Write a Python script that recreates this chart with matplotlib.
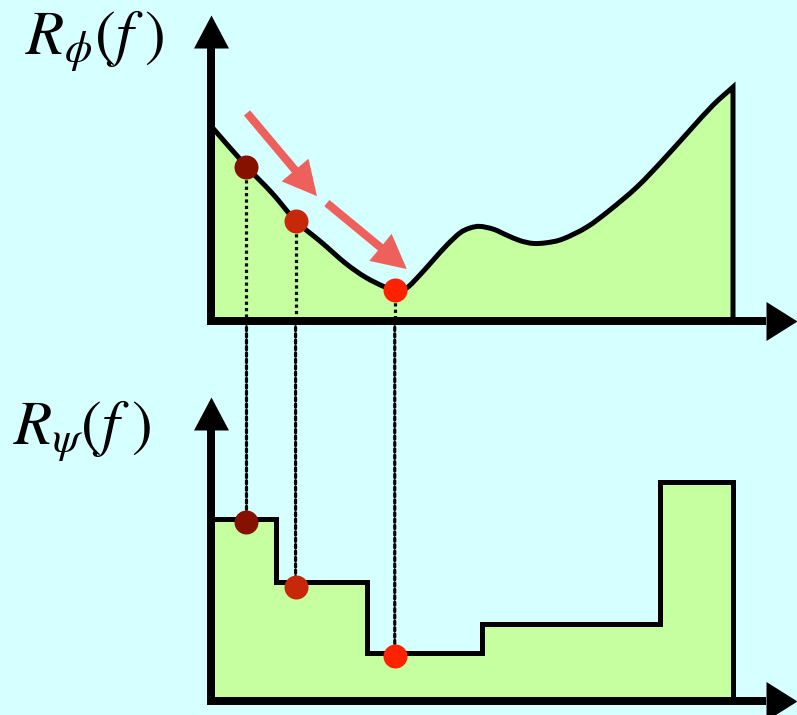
import numpy as np
import matplotlib.pyplot as plt
from matplotlib.path import Path
from matplotlib.patches import ConnectionPatch, FancyArrowPatch, PathPatch

plt.rcParams['mathtext.fontset'] = 'stix'

BG = '#D6FFFF'
FILL = '#C6FFA0'
ARROW_RED = '#ED605B'

# smooth response R_phi(f), sampled along the curve
phi_f = [0.00, 0.69, 1.17, 1.63, 2.13, 2.57, 2.95, 3.33, 3.55, 3.75, 4.00,
         4.26, 4.52, 4.77, 4.96, 5.15, 5.41, 5.66, 5.92, 6.17, 6.43, 6.74,
         7.20, 7.64, 8.16, 8.66, 9.18, 9.62, 10.00]
phi_R = [8.37, 6.61, 5.49, 4.29, 3.35, 2.49, 1.89, 1.46, 1.31, 1.42, 1.97,
         2.62, 3.26, 3.78, 3.99, 4.06, 3.94, 3.69, 3.45, 3.33, 3.36, 3.52,
         4.03, 4.76, 5.75, 6.91, 8.20, 9.27, 10.04]

# piecewise-constant response R_psi(f)
psi_edges = [0.0, 1.25, 2.98, 5.19, 8.60, 10.0]
psi_levels = [7.81, 5.11, 2.06, 3.30, 9.40]

# three probe frequencies and their values on both curves
probe_f = [0.68, 1.62, 3.52]
probe_phi = [6.62, 4.31, 1.33]
probe_psi = [7.68, 4.89, 1.93]
probe_colors = ['#861100', '#C8280A', '#FF2200']

W, H = 797, 715
PX = 0.72  # points per pixel at dpi 100

fig = plt.figure(figsize=(W / 100, H / 100), dpi=100, facecolor=BG)


def panel(x0, y_axis, top):
    ax = fig.add_axes([x0 / W, 1 - y_axis / H, 522 / W, (y_axis - top) / H])
    ax.set_xlim(0, 10)
    ax.set_ylim(0, 10)
    ax.set_axis_off()
    return ax


def smooth_path(x, y):
    # cubic Bezier segments through the samples (Catmull-Rom tangents)
    p = np.column_stack([x, y])
    ext = np.vstack([p[0], p, p[-1]])
    verts = [p[0]]
    codes = [Path.MOVETO]
    for i in range(len(p) - 1):
        a, b, c, d = ext[i], ext[i + 1], ext[i + 2], ext[i + 3]
        verts += [b + (c - a) / 6, c - (d - b) / 6, c]
        codes += [Path.CURVE4] * 3
    return np.array(verts), codes


ax_bot = panel(211, 701, 468)
ax_top = panel(211, 321, 88)
ax_top.set_zorder(2)
ax_bot.set_zorder(1)


def draw_axes(ax, ytip, ybase):
    xbase, xtip = 10.63, 11.23
    ax.plot([0, 0, xbase], [ybase, 0, 0], color='k', lw=8 * PX,
            solid_joinstyle='miter', solid_capstyle='butt', clip_on=False, zorder=6)
    up = [(0, 0), (-17.5, -33), (17.5, -33)]
    right = [(0, 0), (-31, 19.5), (-31, -19.5)]
    ax.plot([0], [ytip], marker=up, ms=66 * PX, mew=0, color='k',
            clip_on=False, zorder=6)
    ax.plot([xtip], [0], marker=right, ms=62 * PX, mew=0, color='k',
            clip_on=False, zorder=6)


# top panel: smooth curve
verts, codes = smooth_path(phi_f, phi_R)
area = Path(np.vstack([verts, [[phi_f[-1], 0], [phi_f[0], 0], verts[0]]]),
            codes + [Path.LINETO, Path.LINETO, Path.CLOSEPOLY])
ax_top.add_patch(PathPatch(area, facecolor=FILL, lw=0, zorder=1))
outline = Path(np.vstack([verts, [[phi_f[-1], 0]]]), codes + [Path.LINETO])
ax_top.add_patch(PathPatch(outline, fill=False, edgecolor='k', lw=5 * PX,
                           joinstyle='miter', capstyle='butt',
                           clip_on=False, zorder=4))
draw_axes(ax_top, 13.13, 11.72)

# bottom panel: steps
ax_bot.stairs(psi_levels, psi_edges, baseline=0, fill=True, color=FILL,
              lw=0, zorder=1)
ax_bot.stairs(psi_levels, psi_edges, baseline=0, fill=False, color='k',
              lw=5 * PX, zorder=4, clip_on=False)
draw_axes(ax_bot, 13.05, 11.63)

# dotted guides from the smooth curve down to the steps
for f, rp, rs in zip(probe_f, probe_phi, probe_psi):
    ax_top.plot([f, f], [rp, 0], color='k', lw=2.3, ls=(0, (1, 1)),
                clip_on=False, zorder=3)
    con = ConnectionPatch(xyA=(f, 0), coordsA=ax_top.transData,
                          xyB=(f, rs), coordsB=ax_bot.transData,
                          color='k', lw=2.3, ls=(0, (1, 1)), zorder=3)
    con.set_clip_on(False)
    ax_bot.add_artist(con)

for f, rp, rs, c in zip(probe_f, probe_phi, probe_psi, probe_colors):
    ax_top.plot([f], [rp], 'o', ms=24 * PX, color=c, mew=0, clip_on=False, zorder=7)
    ax_bot.plot([f], [rs], 'o', ms=24 * PX, color=c, mew=0, clip_on=False, zorder=7)

# descent arrows along the slope
for tail, tip in [((0.69, 8.93), (2.03, 5.36)), ((2.22, 5.06), (3.75, 2.23))]:
    ax_top.add_patch(FancyArrowPatch(
        tail, tip, arrowstyle='simple,tail_width=0.58,head_width=2.52,head_length=2.45',
        mutation_scale=10, color=ARROW_RED, lw=0, shrinkA=0, shrinkB=0,
        clip_on=False, zorder=5))

fig.text(25 / W, 1 - 55 / H, r'$R_\phi(f\;)$', fontsize=45, va='baseline', ha='left')
fig.text(13 / W, 1 - 445 / H, r'$R_\psi(f\;)$', fontsize=45, va='baseline', ha='left')

fig.savefig('out.png', dpi=100, facecolor=BG)
